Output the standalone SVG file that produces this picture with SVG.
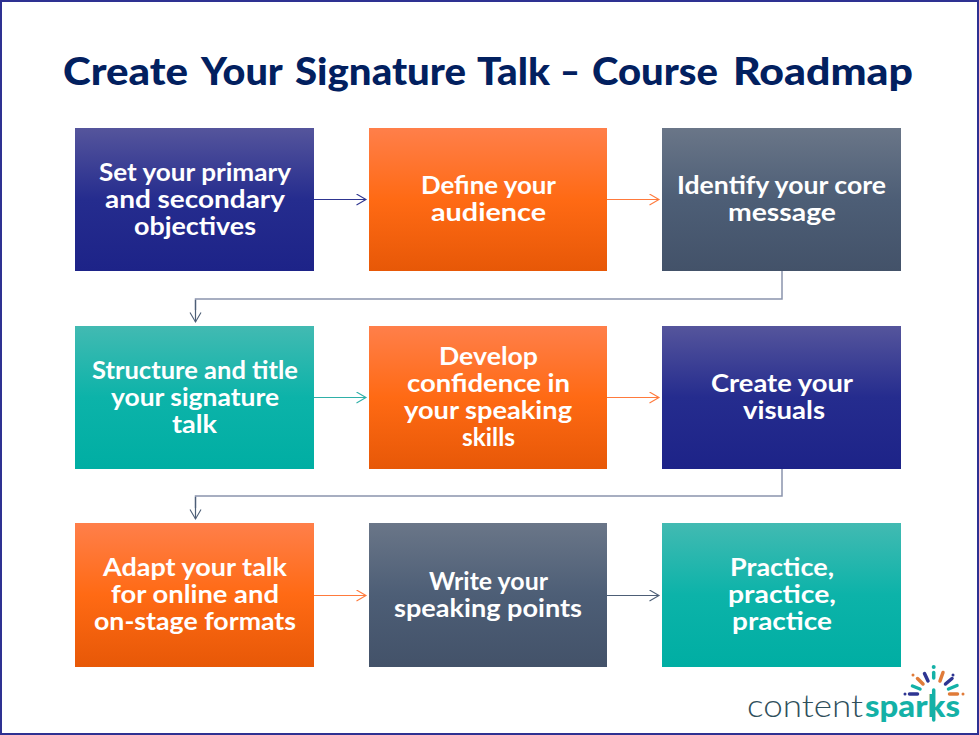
<svg xmlns="http://www.w3.org/2000/svg" width="979" height="735" viewBox="0 0 979 735">
<style>
.t{font-family:"Lato","Open Sans","Liberation Sans",sans-serif;font-weight:700;font-size:25.5px;fill:#fff}
.title{font-family:"Lato","Open Sans","Liberation Sans",sans-serif;font-weight:900;font-size:38px;fill:#02205f}
.c{fill:none;stroke-width:1.2}
.ray{stroke-width:3.5;stroke-linecap:round;fill:none}
.logo{font-family:"Lato","Open Sans","Liberation Sans",sans-serif;font-size:31px}
</style>
<defs>
<linearGradient id="blue" x1="0" y1="0" x2="0" y2="1"><stop offset="0" stop-color="#55559c"/><stop offset=".5" stop-color="#252c8e"/><stop offset="1" stop-color="#1d2388"/></linearGradient>
<linearGradient id="orange" x1="0" y1="0" x2="0" y2="1"><stop offset="0" stop-color="#ff7f4a"/><stop offset=".5" stop-color="#ff6a14"/><stop offset="1" stop-color="#e75807"/></linearGradient>
<linearGradient id="slate" x1="0" y1="0" x2="0" y2="1"><stop offset="0" stop-color="#6a7688"/><stop offset=".5" stop-color="#4d5e76"/><stop offset="1" stop-color="#435269"/></linearGradient>
<linearGradient id="teal" x1="0" y1="0" x2="0" y2="1"><stop offset="0" stop-color="#42bab2"/><stop offset=".5" stop-color="#0cb3a9"/><stop offset="1" stop-color="#00aea3"/></linearGradient>
<marker id="aB" markerUnits="userSpaceOnUse" markerWidth="14" markerHeight="14" refX="10" refY="6" orient="auto"><path d="M0.5 0.5L10 6L0.5 11.5" fill="none" stroke="#2e3590" stroke-width="1.1"/></marker>
<marker id="aO" markerUnits="userSpaceOnUse" markerWidth="14" markerHeight="14" refX="10" refY="6" orient="auto"><path d="M0.5 0.5L10 6L0.5 11.5" fill="none" stroke="#ff7a3c" stroke-width="1.1"/></marker>
<marker id="aT" markerUnits="userSpaceOnUse" markerWidth="14" markerHeight="14" refX="10" refY="6" orient="auto"><path d="M0.5 0.5L10 6L0.5 11.5" fill="none" stroke="#2fb0a8" stroke-width="1.1"/></marker>
<marker id="aS" markerUnits="userSpaceOnUse" markerWidth="14" markerHeight="14" refX="10" refY="6" orient="auto"><path d="M0.5 0.5L10 6L0.5 11.5" fill="none" stroke="#4d5e76" stroke-width="1.1"/></marker>
</defs>
<rect width="979" height="735" fill="#fff"/>
<rect x="1" y="1" width="977" height="733" fill="none" stroke="#2e3192" stroke-width="2"/>
<text class="title" y="85" lengthAdjust="spacingAndGlyphs"><tspan x="63" textLength="125" lengthAdjust="spacingAndGlyphs">Create</tspan> <tspan x="201" textLength="81" lengthAdjust="spacingAndGlyphs">Your</tspan> <tspan x="295" textLength="171" lengthAdjust="spacingAndGlyphs">Signature</tspan> <tspan x="477" textLength="73" lengthAdjust="spacingAndGlyphs">Talk</tspan> <tspan x="560" textLength="20" lengthAdjust="spacingAndGlyphs">–</tspan> <tspan x="592" textLength="126" lengthAdjust="spacingAndGlyphs">Course</tspan> <tspan x="733" textLength="180" lengthAdjust="spacingAndGlyphs">Roadmap</tspan></text>

<g id="connectors">
<path class="c" stroke="#2e3590" marker-end="url(#aB)" d="M314 199.500H366"/>
<path class="c" stroke="#ff7a3c" marker-end="url(#aO)" d="M607 199.500H659"/>
<path class="c" stroke="#8a94ad" style="stroke-width:1.500" d="M782 271V299H195.500V310"/>
<path class="c" stroke="#4d5e76" marker-end="url(#aS)" d="M195.500 300V322"/>
<path class="c" stroke="#2fb0a8" marker-end="url(#aT)" d="M314 397.500H366"/>
<path class="c" stroke="#ff7a3c" marker-end="url(#aO)" d="M607 397.500H659"/>
<path class="c" stroke="#8a94ad" style="stroke-width:1.500" d="M782 469V496H195.500V508"/>
<path class="c" stroke="#4d5e76" marker-end="url(#aS)" d="M195.500 497V519"/>
<path class="c" stroke="#ff7a3c" marker-end="url(#aO)" d="M314 595.500H366"/>
<path class="c" stroke="#4d5e76" marker-end="url(#aS)" d="M607 595.500H659"/>
</g>

<g id="n1"><rect x="75" y="128" width="239" height="143" fill="url(#blue)"/>
<text class="t" x="99" y="181" textLength="192" lengthAdjust="spacingAndGlyphs">Set your primary</text>
<text class="t" x="105" y="208" textLength="180" lengthAdjust="spacingAndGlyphs">and secondary</text>
<text class="t" x="134" y="235" textLength="122" lengthAdjust="spacingAndGlyphs">objectives</text></g>
<g id="n2"><rect x="369" y="128" width="238" height="143" fill="url(#orange)"/>
<text class="t" x="421" y="194" textLength="135" lengthAdjust="spacingAndGlyphs">Define your</text>
<text class="t" x="431" y="221" textLength="115" lengthAdjust="spacingAndGlyphs">audience</text></g>
<g id="n3"><rect x="662" y="128" width="239" height="143" fill="url(#slate)"/>
<text class="t" x="677" y="194" textLength="209" lengthAdjust="spacingAndGlyphs">Identify your core</text>
<text class="t" x="728" y="221" textLength="108" lengthAdjust="spacingAndGlyphs">message</text></g>
<g id="n4"><rect x="75" y="326" width="239" height="143" fill="url(#teal)"/>
<text class="t" x="92" y="379" textLength="206" lengthAdjust="spacingAndGlyphs">Structure and title</text>
<text class="t" x="111" y="406" textLength="168" lengthAdjust="spacingAndGlyphs">your signature</text>
<text class="t" x="172" y="433" textLength="45" lengthAdjust="spacingAndGlyphs">talk</text></g>
<g id="n5"><rect x="369" y="326" width="238" height="143" fill="url(#orange)"/>
<text class="t" x="439" y="365" textLength="99" lengthAdjust="spacingAndGlyphs">Develop</text>
<text class="t" x="407" y="392" textLength="163" lengthAdjust="spacingAndGlyphs">confidence in</text>
<text class="t" x="404" y="419" textLength="168" lengthAdjust="spacingAndGlyphs">your speaking</text>
<text class="t" x="462" y="446" textLength="53" lengthAdjust="spacingAndGlyphs">skills</text></g>
<g id="n6"><rect x="662" y="326" width="239" height="143" fill="url(#blue)"/>
<text class="t" x="711" y="392" textLength="142" lengthAdjust="spacingAndGlyphs">Create your</text>
<text class="t" x="743" y="419" textLength="82" lengthAdjust="spacingAndGlyphs">visuals</text></g>
<g id="n7"><rect x="75" y="523" width="239" height="144" fill="url(#orange)"/>
<text class="t" x="103" y="576" textLength="184" lengthAdjust="spacingAndGlyphs">Adapt your talk</text>
<text class="t" x="111" y="603" textLength="168" lengthAdjust="spacingAndGlyphs">for online and</text>
<text class="t" x="94" y="630" textLength="202" lengthAdjust="spacingAndGlyphs">on-stage formats</text></g>
<g id="n8"><rect x="369" y="523" width="238" height="144" fill="url(#slate)"/>
<text class="t" x="429" y="590" textLength="119" lengthAdjust="spacingAndGlyphs">Write your</text>
<text class="t" x="394" y="617" textLength="188" lengthAdjust="spacingAndGlyphs">speaking points</text></g>
<g id="n9"><rect x="662" y="523" width="239" height="144" fill="url(#teal)"/>
<text class="t" x="730" y="576" textLength="104" lengthAdjust="spacingAndGlyphs">Practice,</text>
<text class="t" x="728" y="603" textLength="108" lengthAdjust="spacingAndGlyphs">practice,</text>
<text class="t" x="732" y="630" textLength="100" lengthAdjust="spacingAndGlyphs">practice</text></g>

<g id="logo">
<text class="logo" x="747" y="717" textLength="116" lengthAdjust="spacingAndGlyphs" font-weight="300" fill="#2f4f5b">content</text>
<text class="logo" x="865" y="717" textLength="95" lengthAdjust="spacingAndGlyphs" font-weight="900" fill="#14b1a7">sparks</text>
<g class="ray">
<path stroke="#14b1a7" d="M933.700 672.500V678"/>
<path stroke="#2e3592" d="M924.500 673.500L928 681"/>
<path stroke="#e07b39" d="M917.500 678.500L923 684"/>
<path stroke="#e07b39" d="M943 672.500L940 681"/>
<path stroke="#2e3592" d="M952 678.500L945.500 684"/>
<path stroke="#14b1a7" d="M912.500 686L920 689"/>
<path stroke="#14b1a7" d="M957 685.500L948.500 689"/>
<path stroke="#2e3592" d="M909.500 694H917.500"/>
<path stroke="#e07b39" d="M949.500 694H957.500"/>
<path stroke="#14b1a7" d="M933.700 690V720"/>
</g>
<circle cx="933.700" cy="667" r="2" fill="#14b1a7"/>
<circle cx="913" cy="675" r="1.500" fill="#e07b39"/>
<circle cx="953" cy="675" r="1.500" fill="#2e3592"/>
<circle cx="905" cy="694" r="1.500" fill="#2e3592"/>
<circle cx="963" cy="694" r="1.500" fill="#e07b39"/>
</g>
</svg>
